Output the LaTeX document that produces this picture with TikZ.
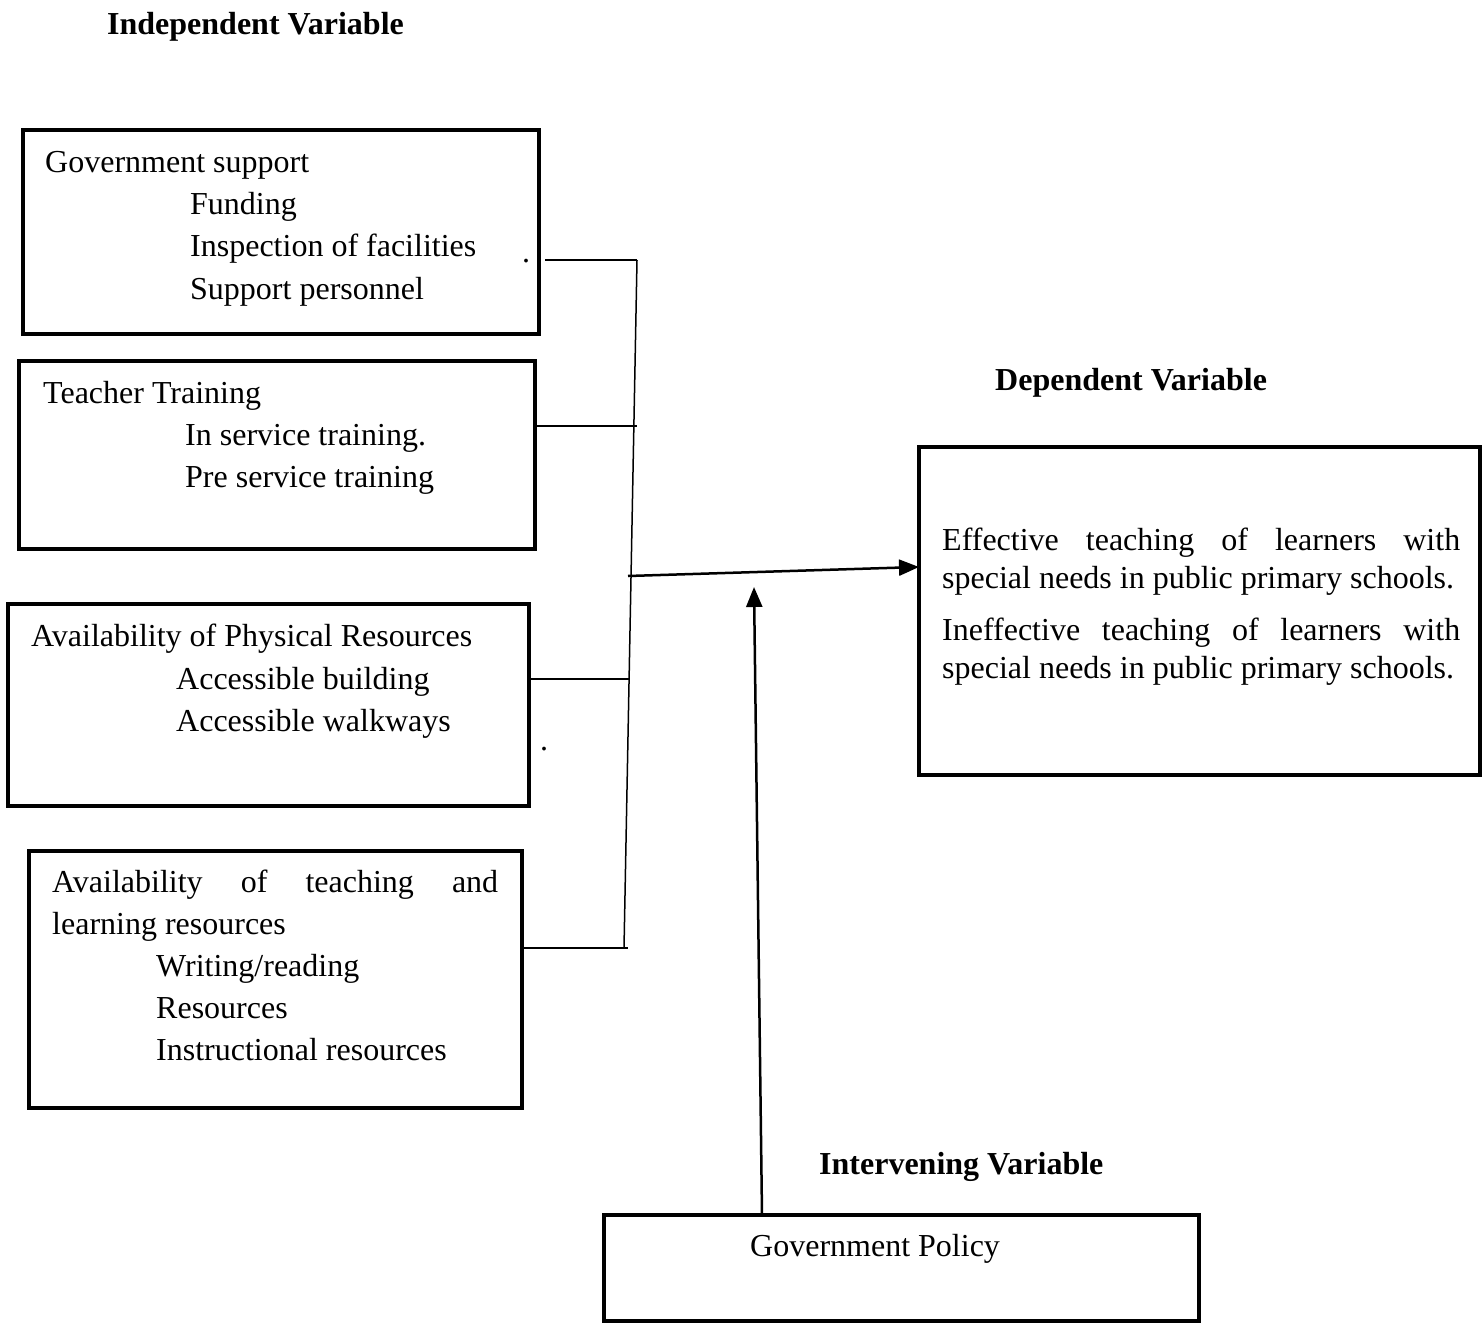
\documentclass[tikz,border=0pt]{standalone}
\usepackage{fontspec}
\setmainfont{Liberation Serif}
\usetikzlibrary{arrows.meta}
\begin{document}
\begin{tikzpicture}[x=1pt,y=-1pt,
  boxst/.style={draw,line width=4pt,rectangle,anchor=north west,inner sep=0pt,outer sep=0pt},
  txt/.style={anchor=base west,inner sep=0pt,font=\fontsize{32}{42}\selectfont},
  ttl/.style={anchor=base west,inner sep=0pt,font=\fontsize{32}{42}\selectfont\bfseries},
  conn/.style={line width=1.5pt},
  arr/.style={line width=2.5pt,-{Triangle[length=20pt,width=16pt]}}]
\useasboundingbox (0,0) rectangle (1482,1324);
% titles
\node[ttl] (t1) at (107,35) {Independent Variable};
\node[ttl] (t2) at (995,390) {Dependent Variable};
\node[ttl] (t3) at (819,1174) {Intervening Variable};
% boxes
\node[boxst,minimum width=516pt,minimum height=204pt] (b1) at (23,130) {};
\node[boxst,minimum width=516pt,minimum height=188pt] (b2) at (19,361) {};
\node[boxst,minimum width=521pt,minimum height=202pt] (b3) at (8,604) {};
\node[boxst,minimum width=493pt,minimum height=257pt] (b4) at (29,851) {};
\node[boxst,minimum width=561pt,minimum height=328pt] (dep) at (919,447) {};
\node[boxst,minimum width=595pt,minimum height=106pt] (pol) at (604,1215) {};
% box texts
\node[txt] (a1) at (45,173) {Government support};
\node[txt] (a2) at (190,215) {Funding};
\node[txt] (a3) at (190,257) {Inspection of facilities};
\node[txt] (a4) at (190,299) {Support personnel};
\node[txt] (c1) at (43,403) {Teacher Training};
\node[txt] (c2) at (185,445) {In service training.};
\node[txt] (c3) at (185,487) {Pre service training};
\node[txt] (d1) at (31,646) {Availability of Physical Resources};
\node[txt] (d2) at (176,689) {Accessible building};
\node[txt] (d3) at (176,731) {Accessible walkways};
\node[txt,text width=446pt] (e1) at (52,892) {Availability\hfill of\hfill teaching\hfill and};
\node[txt] (e2) at (52,934) {learning resources};
\node[txt] (e3) at (156,976) {Writing/reading};
\node[txt] (e4) at (156,1018) {Resources};
\node[txt] (e5) at (156,1060) {Instructional resources};
\node[txt,text width=518pt] (f1) at (942,550) {Effective\hfill teaching\hfill of\hfill learners\hfill with};
\node[txt] (f2) at (942,588) {special needs in public primary schools.};
\node[txt,text width=518pt] (f3) at (942,640) {Ineffective\hfill teaching\hfill of\hfill learners\hfill with};
\node[txt] (f4) at (942,678) {special needs in public primary schools.};
\node[txt] (g1) at (750,1256) {Government Policy};
% stray dots
\node[txt] (dot1) at (522,262) {.};
\node[txt] (dot2) at (540,750) {.};
% connectors
\coordinate (vtop) at (637,260);
\coordinate (vbot) at (624,948);
\coordinate (mid) at (628,576);
\coordinate (ptip) at (754,587);
\draw[conn] (vtop) -- (vbot);
\draw[conn] ([xshift=6pt]b1.east |- vtop) -- (vtop);
\draw[conn] (b2.east |- 0,426) -- (637,426);
\draw[conn] (b3.east |- 0,679) -- (630,679);
\draw[conn] (b4.east |- vbot) -- ([xshift=4pt]vbot);
\draw[arr] (mid) -- ([yshift=44pt]dep.west);
\draw[arr] ([xshift=-139.5pt]pol.north) -- (ptip);
\end{tikzpicture}
\end{document}
